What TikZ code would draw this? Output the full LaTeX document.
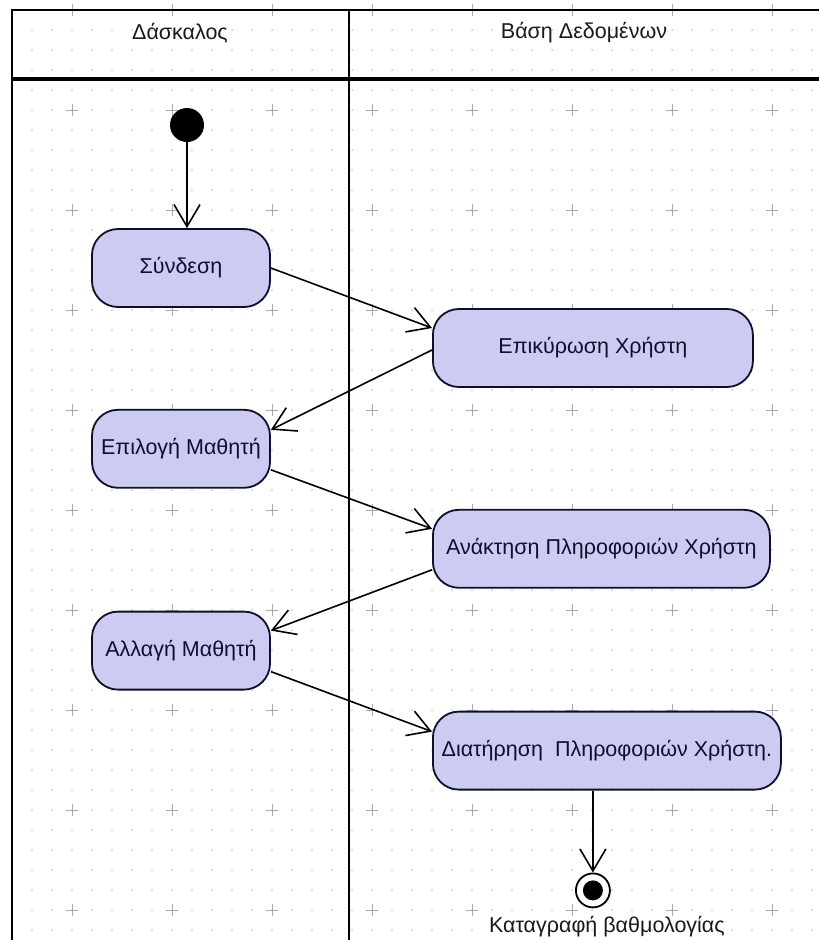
\documentclass[tikz,border=0pt]{standalone}
\usepackage{fontspec}
\setmainfont{Liberation Sans}
\usetikzlibrary{arrows.meta,positioning}

\definecolor{actfill}{RGB}{204,204,242}
\definecolor{acttext}{RGB}{15,15,45}
\definecolor{griddot}{RGB}{200,200,200}
\definecolor{gridcross}{RGB}{170,170,170}

\begin{document}
\begin{tikzpicture}[x=1pt,y=-1pt,node distance=10pt,
                    activity/.style={
                               % The shape:
                               rectangle,minimum height=78pt,minimum width=178pt,
                               rounded corners=26pt,inner sep=2pt,
                               % The rest
                               draw=acttext,line width=1.8pt,fill=actfill,
                               text=acttext,font=\fontsize{21.5}{26}\selectfont},
                    startdot/.style={circle,fill=black,minimum size=34pt,inner sep=0pt},
                    enddot/.style={circle,draw=black,line width=1.8pt,fill=white,
                               minimum size=34pt,inner sep=0pt,
                               path picture={\fill[black] (path picture bounding box.center) circle (10pt);}},
                    flow/.style={line width=1.6pt,
                               -{Straight Barb[length=22pt,width=26pt,line width=1.6pt]}},
                    lane/.style={font=\fontsize{21.5}{26}\selectfont,text=black!90}]
 \useasboundingbox (0,0) rectangle (819,940);
 % dotted drawing grid, crosses every 100
 \foreach \x in {12,32,...,812}
   \foreach \y in {10,30,...,930}
     \fill[griddot] (\x,\y) circle (1pt);
 \foreach \x in {72,172,...,772}
   \foreach \y in {10,110,...,910}
     \draw[gridcross,line width=0.8pt] (\x-6,\y) -- (\x+6,\y) (\x,\y-6) -- (\x,\y+6);

 % swimlanes
 \draw[line width=2.8pt] (12,940) -- (12,10) -- (819,10);
 \draw[line width=4.2pt] (12,79) -- (819,79);
 \draw[line width=2.8pt] (349,10) -- (349,940);
 \node (teacher)  [lane] at (180,33) {Δάσκαλος};
 \node (database) [lane] at (584,33) {Βάση Δεδομένων};

 % activities
 \node (start)     [startdot] at (187,125) {};
 \node (syndesi)   [activity] at (181,268) {Σύνδεση};
 \node (epikyrosi) [activity,minimum width=320pt,anchor=west] at (432,348) {Επικύρωση Χρήστη};
 \node (epilogi)   [activity,below=101pt of syndesi] {Επιλογή Μαθητή};
 \node (anaktisi)  [activity,minimum width=337pt,below=121pt of epikyrosi.south west,anchor=north west]
                   {Ανάκτηση Πληροφοριών Χρήστη};
 \node (allagi)    [activity,below=122pt of epilogi] {Αλλαγή Μαθητή};
 \node (diatirisi) [activity,minimum width=348pt,below=122pt of anaktisi.south west,anchor=north west]
                   {Διατήρηση\ \ Πληροφοριών Χρήστη.};
 \node (end)       [enddot,below=82pt of diatirisi,xshift=-14pt] {};
 \node (recording) [lane,below=4pt of end,xshift=14pt] {Καταγραφή βαθμολογίας};

 % control flow
 \draw[flow] (start.south) -- (start.south |- syndesi.north);
 \draw[flow] (syndesi.east) -- ([yshift=20pt]epikyrosi.west);
 \draw[flow] ([yshift=-2pt]epikyrosi.west) -- ([yshift=19pt]epilogi.east);
 \draw[flow] ([yshift=-21pt]epilogi.east) -- ([yshift=20pt]anaktisi.west);
 \draw[flow] ([yshift=-21pt]anaktisi.west) -- ([yshift=20pt]allagi.east);
 \draw[flow] ([yshift=-21pt]allagi.east) -- ([yshift=19pt]diatirisi.west);
 \draw[flow] (end.north |- diatirisi.south) -- (end.north);
\end{tikzpicture}
\end{document}
